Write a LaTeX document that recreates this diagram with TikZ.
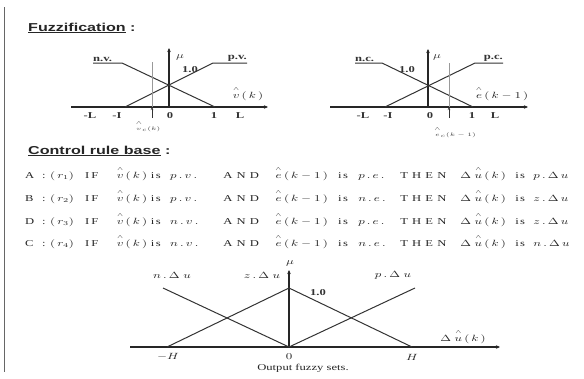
\documentclass[tikz,border=0pt]{standalone}
\usepackage{fontspec}
\setmainfont{Liberation Serif}
\setsansfont{Liberation Sans}
\usepackage{graphicx}
\usetikzlibrary{arrows.meta}

% text in the reference is stretched sideways
\newcommand{\wide}[1]{\scalebox{1.4}[1]{#1}}
% hat set well above the letter, as in the reference
\newcommand{\hatted}[1]{\mathord{\stackrel{\scriptscriptstyle\wedge}{\vphantom{k}#1}}}
\newcommand{\rulerow}[5]{\scalebox{1.4}[1]{%
  \makebox[12.1pt][l]{#1}%
  \makebox[5.7pt][l]{:}%
  \makebox[25pt][l]{$(\,r_{#2})$}%
  \makebox[22.6pt][l]{I\hspace{1.5pt}F}%
  \makebox[24.4pt][l]{$\hatted{v}\,(\,k\,)$}%
  \makebox[13.8pt][l]{i\hspace{1pt}s}%
  \makebox[37.9pt][l]{$#3$}%
  \makebox[37.1pt][l]{A\hspace{3pt}N\hspace{3pt}D}%
  \makebox[45pt][l]{$\hatted{e}\,(\,k-1\,)$}%
  \makebox[14.3pt][l]{i\hspace{1pt}s}%
  \makebox[30pt][l]{$#4$}%
  \makebox[42.9pt][l]{T\hspace{3pt}H\hspace{3pt}E\hspace{3pt}N}%
  \makebox[39.3pt][l]{$\Delta\;\hatted{u}\,(\,k\,)$}%
  \makebox[12.9pt][l]{i\hspace{1pt}s}%
  $#5$}}

\begin{document}
\begin{tikzpicture}[
  x=1pt, y=-1pt,
  axis/.style={-{Stealth[length=4pt,width=3.5pt]}, line width=1.4pt, draw=black!85},
  member/.style={line width=1pt, draw=black!80},
  crisp/.style={line width=0.6pt, draw=black!40},
  head/.style={anchor=west, inner sep=0pt, font=\fontsize{11.5}{12}\selectfont\sffamily\bfseries, text=black!85},
  lbl/.style={inner sep=0pt, font=\fontsize{9}{10}\selectfont\bfseries, text=black!80},
  tiny/.style={inner sep=0pt, font=\fontsize{5.5}{6}\selectfont, text=black!75},
  rule/.style={anchor=west, inner sep=0pt, font=\fontsize{9}{10}\selectfont, text=black!85}
]
\useasboundingbox (0,0) rectangle (584,378);
\draw[black!60, line width=0.8pt] (4,7) -- (4,372);

% headings
\node[head] (fuzz) at (28,28) {\wide{\underline{Fuzzification}~:}};
\node[head] (crb) at (28,151) {\wide{\underline{Control rule base}~:}};

% input set v(k)
\coordinate (vL) at (71,107);
\coordinate (vR) at (268,107);
\coordinate (vO) at (169,107);
\coordinate (vT) at (169,48);
\draw[axis] (vL) -- (vR);
\draw[axis] (vO) -- (vT);
\coordinate (nvA) at (93,63);
\coordinate (nvB) at (122,63);
\coordinate (vone) at (215,107);
\coordinate (vmone) at (125,107);
\coordinate (pvA) at (213,63);
\coordinate (pvB) at (247,63);
\draw[member] (nvA) -- (nvB) -- (vone);
\draw[member] (vmone) -- (pvA) -- (pvB);
\coordinate (vcT) at (152,62);
\coordinate (vcA) at (152,107);
\coordinate (vcB) at (152,118);
\draw[crisp] (vcT) -- (vcA);
\draw[-{Stealth[length=3pt,width=2.5pt]}, line width=0.6pt, black!80] (vcB) -- (vcA);
\node[lbl, anchor=south west] (nv) at (93,62) {\wide{n.v.}};
\node[lbl, anchor=south east] (pv) at (247,62) {\wide{p.v.}};
\node[lbl] (vmu) at (180,57) {\wide{$\mu$}};
\node[lbl] (vunit) at (190,70) {\wide{1.0}};
\node[lbl] (vmL) at (90,116) {\wide{-L}};
\node[lbl] (vmI) at (117,116) {\wide{-I}};
\node[lbl] (vzero) at (170,116) {\wide{0}};
\node[lbl] (vI) at (214,116) {\wide{1}};
\node[lbl] (vLL) at (240,116) {\wide{L}};
\node[rule, anchor=center] (vlab) at (248,94) {\wide{$\hatted{v}\,(\,k\,)$}};
\node[tiny] (vclab) at (148,126) {\wide{$\hatted{v}_c(k)$}};

% input set e(k-1)
\coordinate (eL) at (330,107);
\coordinate (eR) at (528,107);
\coordinate (eO) at (428,107);
\coordinate (eT) at (428,49);
\draw[axis] (eL) -- (eR);
\draw[axis] (eO) -- (eT);
\coordinate (ncA) at (355,63);
\coordinate (ncB) at (382,63);
\coordinate (eone) at (473,107);
\coordinate (emone) at (385,107);
\coordinate (pcA) at (475,63);
\coordinate (pcB) at (503,63);
\draw[member] (ncA) -- (ncB) -- (eone);
\draw[member] (emone) -- (pcA) -- (pcB);
\coordinate (ecT) at (449,63);
\coordinate (ecA) at (449,107);
\coordinate (ecB) at (449,118);
\draw[crisp] (ecT) -- (ecA);
\draw[-{Stealth[length=3pt,width=2.5pt]}, line width=0.6pt, black!80] (ecB) -- (ecA);
\node[lbl, anchor=south west] (nc) at (355,62) {\wide{n.c.}};
\node[lbl, anchor=south east] (pc) at (503,62) {\wide{p.c.}};
\node[lbl] (emu) at (437,57) {\wide{$\mu$}};
\node[lbl] (eunit) at (407,70) {\wide{1.0}};
\node[lbl] (emL) at (363,116) {\wide{-L}};
\node[lbl] (emI) at (388,116) {\wide{-I}};
\node[lbl] (ezero) at (430,116) {\wide{0}};
\node[lbl] (eI) at (472,116) {\wide{1}};
\node[lbl] (eLL) at (495,116) {\wide{L}};
\node[rule, anchor=center] (elab) at (502,94) {\wide{$\hatted{e}\,(\,k-1\,)$}};
\node[tiny] (eclab) at (455,132) {\wide{$\hatted{e}_c(k-1)$}};

% rule base
\node[rule] (ruleA) at (25,174) {\rulerow{A}{1}{p\,.\,v\,.}{p\,.\,e\,.}{p\,.\,\Delta\,u}};
\node[rule] (ruleB) at (25,197) {\rulerow{B}{2}{p\,.\,v\,.}{n\,.\,e\,.}{z\,.\,\Delta\,u}};
\node[rule] (ruleD) at (25,220) {\rulerow{D}{3}{n\,.\,v\,.}{p\,.\,e\,.}{z\,.\,\Delta\,u}};
\node[rule] (ruleC) at (25,242) {\rulerow{C}{4}{n\,.\,v\,.}{n\,.\,e\,.}{n\,.\,\Delta\,u}};

% output sets
\coordinate (uL) at (130,347);
\coordinate (uR) at (500,347);
\coordinate (uO) at (289,347);
\coordinate (uT) at (289,270);
\draw[axis, line width=1.2pt] (uL) -- (uR);
\draw[axis, line width=1.2pt] (uO) -- (uT);
\coordinate (umH) at (167,347);
\coordinate (upeak) at (289,288);
\coordinate (uH) at (412,347);
\coordinate (unA) at (163,288);
\coordinate (upA) at (415,288);
\draw[member] (umH) -- (upeak) -- (uH);
\draw[member] (unA) -- (uO) -- (upA);
\node[rule, anchor=center] (nlab) at (172,275) {\wide{$n\,.\,\Delta\;u$}};
\node[rule, anchor=center] (zlab) at (262,275) {\wide{$z\,.\,\Delta\;u$}};
\node[rule, anchor=center] (plab) at (393,275) {\wide{$p\,.\,\Delta\;u$}};
\node[lbl] (uunit) at (318,293) {\wide{1.0}};
\node[rule, anchor=center] (umu) at (290,263) {\wide{$\mu$}};
\node[rule, anchor=center] (umHl) at (168,357) {\wide{$-H$}};
\node[rule, anchor=center] (uzero) at (289,357) {\wide{$0$}};
\node[rule, anchor=center] (uHl) at (412,357) {\wide{$H$}};
\node[rule, anchor=center] (ulab) at (463,337) {\wide{$\Delta\;\hatted{u}\,(\,k\,)$}};
\node[rule, anchor=center] (ucap) at (303,368) {\wide{Output fuzzy sets.}};
\end{tikzpicture}
\end{document}
